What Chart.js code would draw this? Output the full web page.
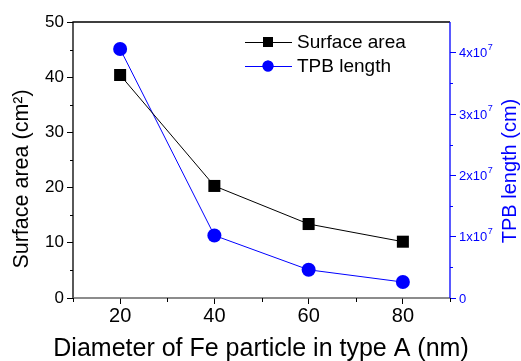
<!DOCTYPE html>
<html><head><meta charset="utf-8">
<script src="https://cdn.jsdelivr.net/npm/chart.js@4/dist/chart.umd.min.js"></script>
<style>html,body{margin:0;padding:0;background:#fff;}#wrap{width:521px;height:361px;}</style>
</head><body><div id="wrap"><canvas id="c" width="521" height="361"></canvas></div>
<script>
const diameters = [20, 40, 60, 80];
const surfaceArea = [40.4, 20.3, 13.4, 10.2];
const tpbLength = [4.06e7, 1.02e7, 0.46e7, 0.26e7];
const leftTicks = [0, 10, 20, 30, 40, 50];
const rightTickValues = [0, 1e7, 2e7, 3e7, 4e7];
const rightTickMantissa = ['0', '1x10', '2x10', '3x10', '4x10'];
const rightTickExponent = ['', '7', '7', '7', '7'];
const xTicks = [20, 40, 60, 80];
const seriesNames = ['Surface area', 'TPB length'];
const xTitle = 'Diameter of Fe particle in type A (nm)';
const yTitle = 'Surface area (cm\u00B2)';
const y2Title = 'TPB length (cm)';

const FONT = '"Liberation Sans", Arial, sans-serif';
const BLUE = '#0000ff';

const extras = {
  id: 'extras',
  afterDraw(chart) {
    const ctx = chart.ctx;
    const {left, right, top, bottom} = chart.chartArea;
    const sx = chart.scales.x, sy = chart.scales.y, sy2 = chart.scales.y2;
    ctx.save();
    // frame
    ctx.lineWidth = 1.3;
    ctx.strokeStyle = '#000';
    ctx.beginPath(); ctx.moveTo(left, bottom); ctx.lineTo(left, top); ctx.lineTo(right, top); ctx.stroke();
    ctx.strokeStyle = '#666';
    ctx.lineWidth = 1.6;
    ctx.beginPath(); ctx.moveTo(left, bottom); ctx.lineTo(right, bottom); ctx.stroke();
    ctx.lineWidth = 1.3;
    ctx.strokeStyle = BLUE;
    ctx.beginPath(); ctx.moveTo(right, top); ctx.lineTo(right, bottom); ctx.stroke();
    // minor ticks
    ctx.lineWidth = 1;
    ctx.strokeStyle = '#000';
    for (let v = 5; v < 50; v += 10) {
      const p = Math.round(sy.getPixelForValue(v)) + 0.5;
      ctx.beginPath(); ctx.moveTo(left - 3, p); ctx.lineTo(left, p); ctx.stroke();
    }
    for (let v = 10; v <= 90; v += 20) {
      const p = Math.round(sx.getPixelForValue(v)) + 0.5;
      ctx.beginPath(); ctx.moveTo(p, bottom); ctx.lineTo(p, bottom + 4); ctx.stroke();
    }
    ctx.strokeStyle = BLUE;
    for (let v = 0.5e7; v < 4.5e7; v += 1e7) {
      const p = Math.round(sy2.getPixelForValue(v)) + 0.5;
      ctx.beginPath(); ctx.moveTo(right, p); ctx.lineTo(right + 3, p); ctx.stroke();
    }
    // right tick labels with superscripts
    ctx.fillStyle = BLUE;
    ctx.textBaseline = 'middle'; ctx.textAlign = 'left';
    rightTickValues.forEach((v, i) => {
      const p = sy2.getPixelForValue(v);
      const x0 = right + 9;
      ctx.font = '13px ' + FONT;
      ctx.fillText(rightTickMantissa[i], x0, p + 1);
      if (rightTickExponent[i]) {
        const w = ctx.measureText(rightTickMantissa[i]).width;
        ctx.font = '9px ' + FONT;
        ctx.fillText(rightTickExponent[i], x0 + w + 0.5, p - 5);
      }
    });
    // titles
    ctx.fillStyle = '#000';
    ctx.textAlign = 'center'; ctx.textBaseline = 'middle';
    ctx.font = '25px ' + FONT;
    ctx.fillText(xTitle, 261, 349);
    ctx.save(); ctx.translate(22, 179); ctx.rotate(-Math.PI / 2);
    ctx.font = '21.5px ' + FONT; ctx.fillText(yTitle, 0, 0); ctx.restore();
    ctx.save(); ctx.translate(510, 171); ctx.rotate(-Math.PI / 2);
    ctx.fillStyle = BLUE; ctx.font = '20px ' + FONT; ctx.fillText(y2Title, 0, 0); ctx.restore();
    // legend
    const rows = [
      {y: 42, color: '#000', style: 'rect', r: 7, name: seriesNames[0]},
      {y: 66, color: BLUE, style: 'circle', r: 5.5, name: seriesNames[1]}
    ];
    ctx.textAlign = 'left';
    ctx.font = '19px ' + FONT;
    rows.forEach(row => {
      ctx.strokeStyle = row.color; ctx.lineWidth = 1;
      ctx.beginPath(); ctx.moveTo(245, row.y + 0.5); ctx.lineTo(292, row.y + 0.5); ctx.stroke();
      ctx.fillStyle = row.color;
      Chart.helpers.drawPoint(ctx, {pointStyle: row.style, radius: row.r, borderWidth: 0, rotation: 0}, 268, row.y);
      ctx.fill();
      ctx.fillStyle = '#000';
      ctx.fillText(row.name, 297, row.y + 1);
    });
    ctx.restore();
  }
};

new Chart(document.getElementById('c'), {
  type: 'line',
  data: {
    datasets: [
      {label: seriesNames[0], data: diameters.map((d, i) => ({x: d, y: surfaceArea[i]})), yAxisID: 'y',
       borderColor: '#000', backgroundColor: '#000', borderWidth: 1, pointStyle: 'rect', pointRadius: 8.5, pointBorderWidth: 0, tension: 0},
      {label: seriesNames[1], data: diameters.map((d, i) => ({x: d, y: tpbLength[i]})), yAxisID: 'y2',
       borderColor: BLUE, backgroundColor: BLUE, borderWidth: 1, pointStyle: 'circle', pointRadius: 7, pointBorderWidth: 0, tension: 0}
    ]
  },
  options: {
    responsive: false, animation: false, devicePixelRatio: 1,
    layout: {padding: {top: 22, left: 0, right: 0, bottom: 0}},
    plugins: {legend: {display: false}, tooltip: {enabled: false}},
    scales: {
      x: {type: 'linear', min: 10, max: 90, position: 'bottom',
        afterBuildTicks: s => { s.ticks = xTicks.map(v => ({value: v})); },
        afterFit: s => { s.height = 63; },
        grid: {drawOnChartArea: false, drawTicks: true, tickLength: 6, color: '#000', tickColor: '#000'},
        border: {display: false},
        ticks: {color: '#000', font: {family: FONT, size: 20}, padding: 0, maxRotation: 0}},
      y: {type: 'linear', min: 0, max: 50, position: 'left',
        afterBuildTicks: s => { s.ticks = leftTicks.map(v => ({value: v})); },
        afterFit: s => { s.width = 73; },
        grid: {drawOnChartArea: false, drawTicks: true, tickLength: 6, color: '#000', tickColor: '#000'},
        border: {display: false},
        ticks: {color: '#000', font: {family: FONT, size: 17}, padding: 3}},
      y2: {type: 'linear', min: 0, max: 4.5e7, position: 'right',
        afterBuildTicks: s => { s.ticks = rightTickValues.map(v => ({value: v})); },
        afterFit: s => { s.width = 71; },
        grid: {drawOnChartArea: false, drawTicks: true, tickLength: 6, color: BLUE, tickColor: BLUE},
        border: {display: false},
        ticks: {color: BLUE, font: {family: FONT, size: 13}, padding: 2, callback: () => ''}}
    }
  },
  plugins: [extras]
});
</script></body></html>
